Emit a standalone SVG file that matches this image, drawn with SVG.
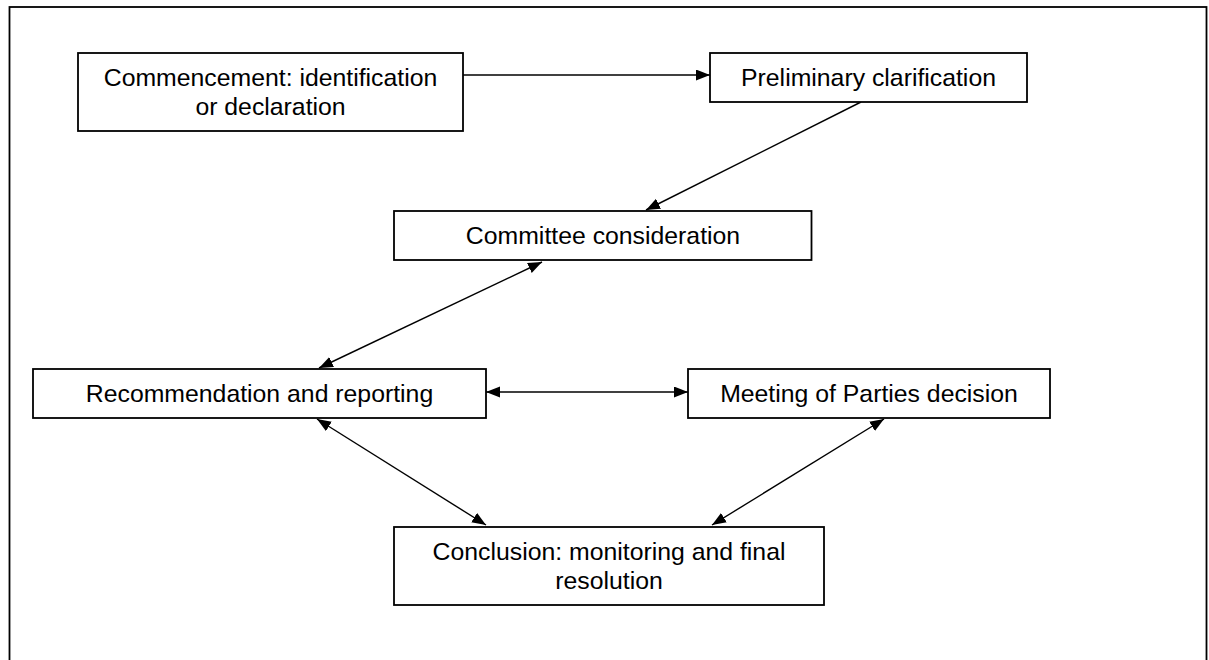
<svg xmlns="http://www.w3.org/2000/svg" width="1209" height="660" viewBox="0 0 1209 660">
<style>
.box{fill:#fff;stroke:#000;stroke-width:1.8}
.lbl{font-family:"Liberation Sans",Arial,sans-serif;font-size:24.8px;fill:#000;text-anchor:middle}
.conn{stroke:#000;stroke-width:1.4;fill:none}
</style>
<defs>
<marker id="ah" markerUnits="userSpaceOnUse" markerWidth="15" markerHeight="12" refX="14" refY="5.5" orient="auto-start-reverse">
<path d="M0,0 L14,5.5 L0,11 z" fill="#000"/>
</marker>
</defs>
<rect x="0" y="0" width="1209" height="660" fill="#fff"/>
<rect x="9.5" y="7" width="1197" height="700" fill="none" stroke="#000" stroke-width="1.8"/>
<g id="connectors">
<line class="conn" x1="463" y1="75" x2="710" y2="75" marker-end="url(#ah)"/>
<line class="conn" x1="861" y1="102" x2="646" y2="210" marker-end="url(#ah)"/>
<line class="conn" x1="542" y1="262" x2="319" y2="368" marker-start="url(#ah)" marker-end="url(#ah)"/>
<line class="conn" x1="486" y1="392" x2="688" y2="392" marker-start="url(#ah)" marker-end="url(#ah)"/>
<line class="conn" x1="317" y1="419" x2="486" y2="525" marker-start="url(#ah)" marker-end="url(#ah)"/>
<line class="conn" x1="884" y1="419" x2="712" y2="525" marker-start="url(#ah)" marker-end="url(#ah)"/>
</g>
<g id="commencement">
<rect class="box" x="78" y="53" width="385" height="78"/>
<text class="lbl" x="270.5" y="86">Commencement: identification</text>
<text class="lbl" x="270.5" y="115">or declaration</text>
</g>
<g id="preliminary">
<rect class="box" x="710" y="53" width="317" height="49"/>
<text class="lbl" x="868.5" y="86">Preliminary clarification</text>
</g>
<g id="committee">
<rect class="box" x="394" y="211" width="417.5" height="49"/>
<text class="lbl" x="603" y="244">Committee consideration</text>
</g>
<g id="recommendation">
<rect class="box" x="33" y="369" width="453" height="49"/>
<text class="lbl" x="259.5" y="402">Recommendation and reporting</text>
</g>
<g id="meeting">
<rect class="box" x="688" y="369" width="362" height="49"/>
<text class="lbl" x="869" y="402">Meeting of Parties decision</text>
</g>
<g id="conclusion">
<rect class="box" x="394" y="527" width="430" height="78"/>
<text class="lbl" x="609" y="560">Conclusion: monitoring and final</text>
<text class="lbl" x="609" y="589">resolution</text>
</g>
</svg>
